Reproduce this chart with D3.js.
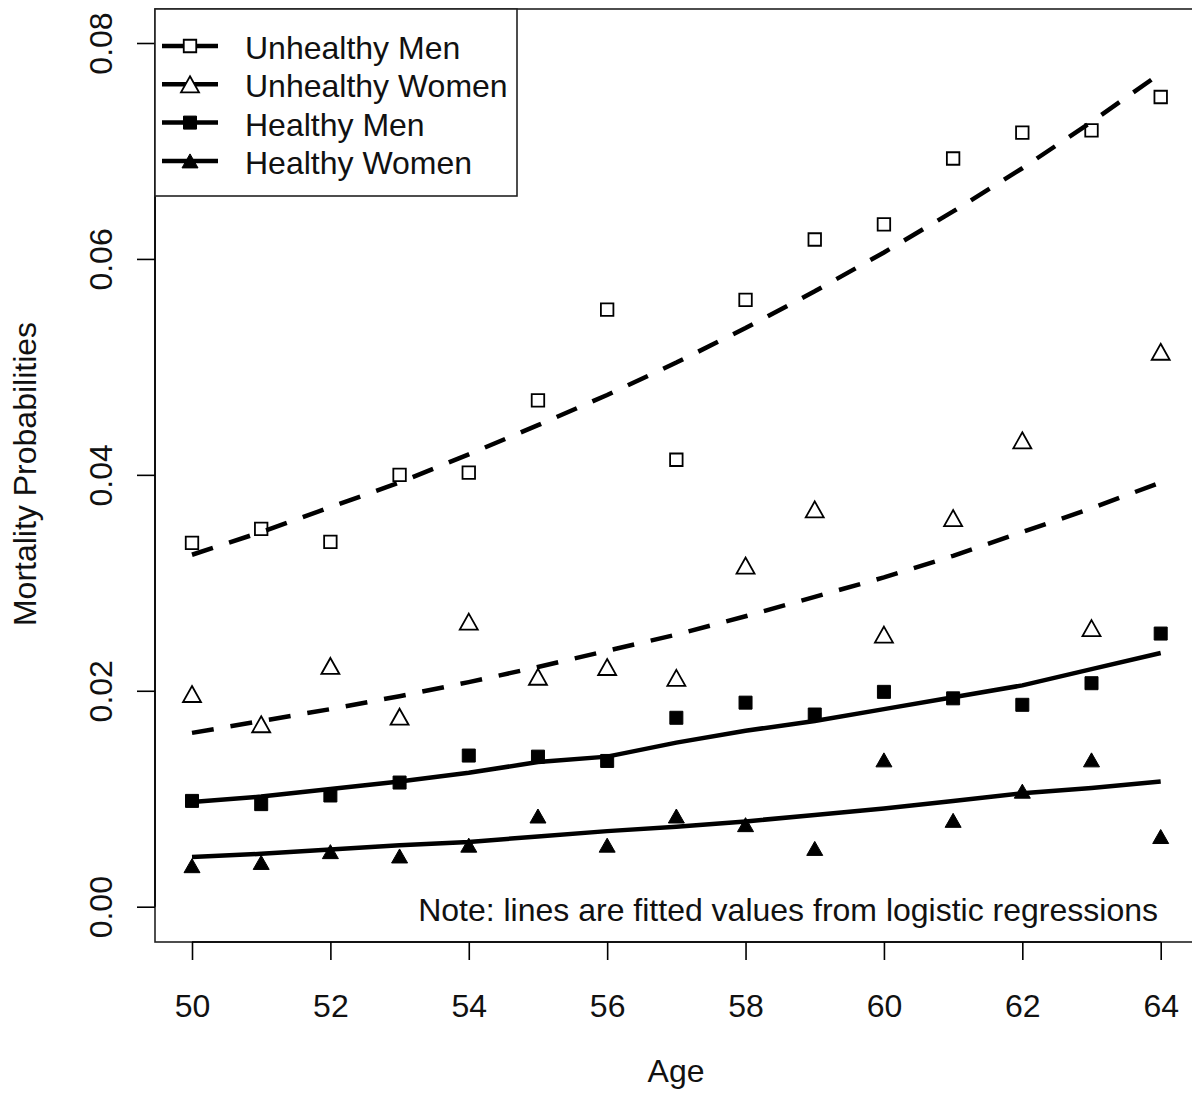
<!DOCTYPE html>
<html>
<head>
<meta charset="utf-8">
<script src="https://cdn.jsdelivr.net/npm/d3@7"></script>
<style>
  body { margin: 0; background: white; }
  svg { display: block; font-family: "Liberation Sans", Arial, sans-serif; }
</style>
</head>
<body>
<div id="chart"></div>
<script>
const width = 1192;
const height = 1099;

// box of the plotting region (R style, axes outside the box)
const box = { left: 155, top: 9, right: 1199, bottom: 942 };

const ages = [50, 51, 52, 53, 54, 55, 56, 57, 58, 59, 60, 61, 62, 63, 64];
const xTicks = [50, 52, 54, 56, 58, 60, 62, 64];
const yTicks = [0, 0.02, 0.04, 0.06, 0.08];

// observed mortality rates
const unhealthyMen = [0.0337, 0.0350, 0.0338, 0.0400, 0.0402, 0.0469, 0.0553, 0.0414, 0.0562, 0.0618, 0.0632, 0.0693, 0.0717, 0.0719, 0.0750];
const unhealthyWomen = [0.0197, 0.0169, 0.0223, 0.0176, 0.0264, 0.0213, 0.0222, 0.0212, 0.0316, 0.0368, 0.0252, 0.0360, 0.0432, 0.0258, 0.0514];
const healthyMen = [0.0098, 0.0095, 0.0103, 0.0115, 0.0140, 0.0139, 0.0135, 0.0175, 0.0189, 0.0178, 0.0199, 0.0193, 0.0187, 0.0207, 0.0253];
const healthyWomen = [0.0038, 0.0041, 0.0051, 0.0047, 0.0057, 0.0084, 0.0057, 0.0084, 0.0076, 0.0054, 0.0136, 0.0080, 0.0107, 0.0136, 0.0065];

// fitted values from the logistic regressions
const fitUnhealthyMen = [0.0326, 0.0347, 0.0370, 0.0393, 0.0419, 0.0446, 0.0474, 0.0504, 0.0536, 0.0570, 0.0606, 0.0644, 0.0684, 0.0727, 0.0772];
const fitUnhealthyWomen = [0.0161, 0.0172, 0.0183, 0.0195, 0.0208, 0.0222, 0.0237, 0.0252, 0.0269, 0.0287, 0.0305, 0.0325, 0.0347, 0.0369, 0.0393];
const fitHealthyMen = [0.0097, 0.0102, 0.0109, 0.0116, 0.0124, 0.0134, 0.0139, 0.0152, 0.0163, 0.0172, 0.0183, 0.0194, 0.0205, 0.0220, 0.0235];
const fitHealthyWomen = [0.0046, 0.0049, 0.0053, 0.0057, 0.0060, 0.0065, 0.0070, 0.0074, 0.0079, 0.0085, 0.0091, 0.0098, 0.0105, 0.0110, 0.0116];

const groups = [
  { title: "Unhealthy Men", obs: unhealthyMen, fit: fitUnhealthyMen, shape: "square", filled: false, dashed: true },
  { title: "Unhealthy Women", obs: unhealthyWomen, fit: fitUnhealthyWomen, shape: "triangle", filled: false, dashed: true },
  { title: "Healthy Men", obs: healthyMen, fit: fitHealthyMen, shape: "square", filled: true, dashed: false },
  { title: "Healthy Women", obs: healthyWomen, fit: fitHealthyWomen, shape: "triangle", filled: true, dashed: false }
];

const x = d3.scaleLinear([50, 64], [192, 1160.7]);
const y = d3.scaleLinear([0, 0.08], [906.7, 43]);

const svg = d3.select("#chart").append("svg")
  .attr("width", width)
  .attr("height", height);

// marker path centred on 0,0
const markerPath = g => {
  if (g.shape === "square") {
    let s = g.filled ? 13 : 12.5;
    return `M${-s / 2},${-s / 2}h${s}v${s}h${-s}Z`;
  }
  let w = g.filled ? 16 : 18, h = g.filled ? 14 : 16;
  return `M0,${-h / 2}L${w / 2},${h / 2}L${-w / 2},${h / 2}Z`;
};

const styleMarker = (sel, g) => sel
  .attr("d", markerPath(g))
  .attr("fill", g.filled ? "black" : "none")
  .attr("stroke", "black")
  .attr("stroke-width", g.filled ? 1 : 1.8);

// plot box
svg.append("rect")
  .attr("x", box.left).attr("y", box.top)
  .attr("width", box.right - box.left).attr("height", box.bottom - box.top)
  .attr("fill", "none")
  .attr("stroke", "#222")
  .attr("stroke-width", 1.6);

// x axis
const xAxis = svg.append("g")
  .attr("transform", `translate(0,${box.bottom})`)
  .call(d3.axisBottom(x).tickValues(xTicks).tickSize(18).tickPadding(34).tickFormat(d3.format("d")));
xAxis.select(".domain")
  .attr("d", `M${x(50)},0H${x(64)}`)
  .attr("stroke-width", 1.6);
xAxis.selectAll(".tick line").attr("stroke-width", 1.6);
xAxis.selectAll(".tick text")
  .attr("font-size", 32)
  .attr("font-family", "Liberation Sans, Arial, sans-serif")
  .attr("fill", "#111");

// y axis, labels rotated like R's default las=0
const yAxis = svg.append("g")
  .attr("transform", `translate(${box.left},0)`)
  .call(d3.axisLeft(y).tickValues(yTicks).tickSize(18).tickFormat(d3.format(".2f")));
yAxis.select(".domain")
  .attr("d", `M0,${y(0)}V${y(0.08)}`)
  .attr("stroke-width", 1.6);
yAxis.selectAll(".tick line").attr("stroke-width", 1.6);
yAxis.selectAll(".tick text")
  .attr("font-size", 32)
  .attr("font-family", "Liberation Sans, Arial, sans-serif")
  .attr("fill", "#111")
  .attr("text-anchor", "middle")
  .attr("x", null).attr("dy", null)
  .attr("transform", "translate(-43,0) rotate(-90)");

// fitted lines
const line = d3.line()
  .x((v, i) => x(ages[i]))
  .y(v => y(v));

svg.selectAll(".fit")
  .data(groups)
  .join("path")
  .attr("class", "fit")
  .attr("d", d => line(d.fit))
  .attr("fill", "none")
  .attr("stroke", "black")
  .attr("stroke-width", 4.5)
  .attr("stroke-dasharray", d => d.dashed ? "22 17" : null);

// observed points
groups.forEach(g => {
  svg.append("g").selectAll("path")
    .data(g.obs)
    .join("path")
    .attr("transform", (v, i) => `translate(${x(ages[i])},${y(v)})`)
    .call(sel => styleMarker(sel, g));
});

// legend
const legend = svg.append("g");
legend.append("rect")
  .attr("x", box.left).attr("y", box.top)
  .attr("width", 517 - box.left).attr("height", 196 - box.top)
  .attr("fill", "white")
  .attr("stroke", "#222")
  .attr("stroke-width", 1.6);
const entries = legend.selectAll(".entry")
  .data(groups)
  .join("g")
  .attr("class", "entry")
  .attr("transform", (d, i) => `translate(0,${46 + i * 38.3})`);
entries.append("line")
  .attr("x1", 162).attr("x2", 218)
  .attr("stroke", "black")
  .attr("stroke-width", 4.5);
entries.each(function (g) {
  d3.select(this).append("path")
    .attr("transform", "translate(190,0)")
    .call(sel => styleMarker(sel, g))
    .attr("fill", g.filled ? "black" : "white");
});
entries.append("text")
  .attr("x", 245).attr("y", 13)
  .attr("font-size", 32)
  .attr("fill", "#111")
  .text(d => d.title);

// note and axis titles
svg.append("text")
  .attr("x", 1158).attr("y", 921)
  .attr("text-anchor", "end")
  .attr("font-size", 32)
  .attr("fill", "#111")
  .text("Note: lines are fitted values from logistic regressions");

svg.append("text")
  .attr("x", 676).attr("y", 1082)
  .attr("text-anchor", "middle")
  .attr("font-size", 32)
  .attr("fill", "#111")
  .text("Age");

svg.append("text")
  .attr("transform", "translate(36,474) rotate(-90)")
  .attr("text-anchor", "middle")
  .attr("font-size", 32)
  .attr("fill", "#111")
  .text("Mortality Probabilities");
</script>
</body>
</html>
